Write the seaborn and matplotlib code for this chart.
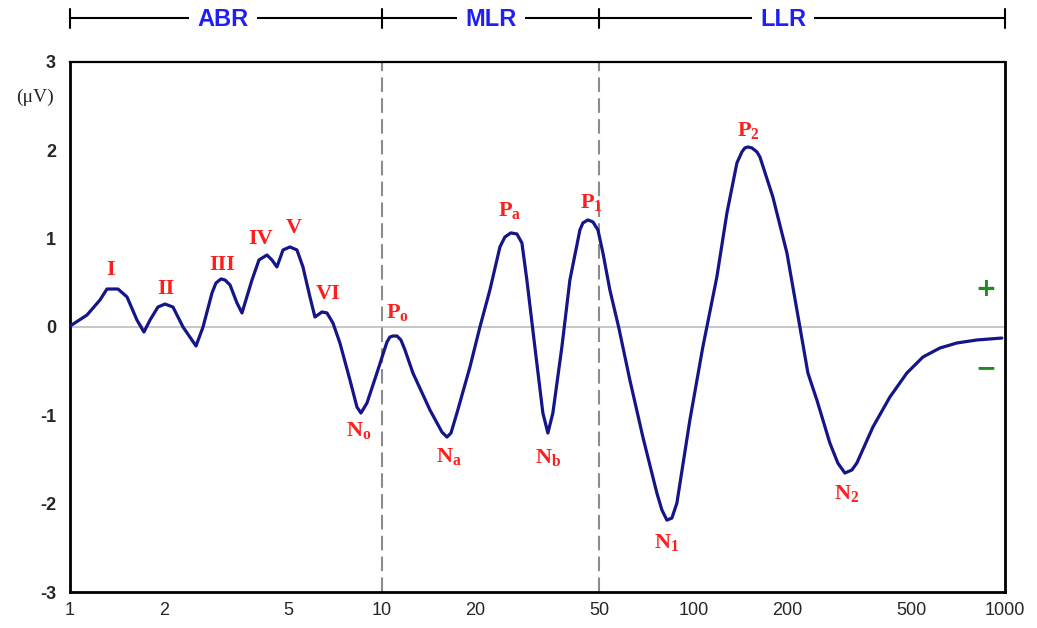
import matplotlib
matplotlib.use("Agg")
import matplotlib.pyplot as plt
import matplotlib.transforms as mtransforms
from matplotlib.ticker import NullLocator
import seaborn as sns

# Grand-averaged auditory evoked potential, latency (ms, log scale) vs amplitude (µV)
latency_ms = [
    1.00, 1.134, 1.248, 1.314, 1.426, 1.524, 1.640, 1.727, 1.806, 1.915,
    2.017, 2.140, 2.305, 2.537, 2.672, 2.855, 2.940, 3.051, 3.143, 3.262,
    3.434, 3.563, 3.836, 4.040, 4.285, 4.446, 4.613, 4.825, 5.079, 5.348,
    5.591, 5.887, 6.109, 6.433, 6.675, 6.978, 7.347, 7.912, 8.332, 8.582,
    8.971, 9.656, 10.40, 10.63, 10.87, 11.20, 11.53, 11.88, 12.60, 14.29,
    15.61, 16.20, 16.69, 17.44, 19.20, 20.67, 22.25, 23.96, 24.86, 25.98,
    27.17, 28.19, 29.24, 31.02, 32.91, 34.15, 35.43, 37.87, 40.18, 43.27,
    44.23, 45.89, 47.64, 49.43, 51.29, 53.99, 57.69, 62.58, 68.90, 76.40,
    79.31, 82.28, 85.35, 88.58, 97.50, 107.3, 119.0, 128.2, 138.0, 143.2,
    146.4, 149.7, 154.2, 160.0, 163.6, 180.0, 199.7, 219.8, 233.2, 249.2,
    274.3, 290.9, 306.4, 322.6, 334.8, 376.9, 427.3, 484.4, 545.4, 618.2,
    701.0, 812.5, 977.2,
]
amplitude_uv = [
    0.01, 0.136, 0.306, 0.430, 0.430, 0.340, 0.079, -0.057, 0.079, 0.226,
    0.260, 0.226, 0.0, -0.215, 0.0, 0.385, 0.498, 0.544, 0.532, 0.476,
    0.272, 0.159, 0.532, 0.759, 0.815, 0.759, 0.680, 0.872, 0.906, 0.872,
    0.680, 0.340, 0.113, 0.170, 0.159, 0.045, -0.181, -0.600, -0.906, -0.974,
    -0.861, -0.521, -0.170, -0.113, -0.102, -0.102, -0.147, -0.260, -0.521, -0.940,
    -1.189, -1.246, -1.200, -0.974, -0.453, 0.0, 0.419, 0.906, 1.019, 1.065,
    1.053, 0.951, 0.532, -0.226, -0.974, -1.200, -0.974, -0.226, 0.532, 1.099,
    1.178, 1.212, 1.189, 1.099, 0.838, 0.419, -0.011, -0.600, -1.246, -1.880,
    -2.072, -2.186, -2.163, -1.993, -1.053, -0.226, 0.566, 1.291, 1.857, 1.982,
    2.027, 2.038, 2.027, 1.982, 1.925, 1.472, 0.838, 0.0, -0.521, -0.827,
    -1.314, -1.540, -1.653, -1.619, -1.540, -1.133, -0.793, -0.521, -0.340, -0.238,
    -0.181, -0.147, -0.125,
]

# Named components and the sample where each one peaks
peak_names = ["I", "II", "III", "IV", "V", "VI", r"N_o", r"P_o", r"N_a", r"P_a",
              r"N_b", r"P_1", r"N_1", r"P_2", r"N_2"]
peak_index = [3, 10, 17, 24, 28, 33, 39, 44, 51, 59, 65, 71, 81, 91, 102]
# label offsets from the peak, in pixels
peak_offset = [(4, 19), (1, 15), (1, 14), (-6, 16), (4, 19), (6, 18), (-2, -17),
               (5, 24), (2, -19), (-1, 22), (0, -24), (3, 17), (0, -22), (0, 16), (2, -20)]

x_ticks = [1, 2, 5, 10, 20, 50, 100, 200, 500, 1000]
y_ticks = [-3, -2, -1, 0, 1, 2, 3]

# Response windows and where their names sit
band_names = ["ABR", "MLR", "LLR"]
band_edges = [1, 10, 50, 1000]
band_label_x = [3.1, 22.4, 194]

sns.set_style("white")
plt.rcParams["mathtext.fontset"] = "custom"
plt.rcParams["mathtext.rm"] = "Liberation Serif:bold"
plt.rcParams["mathtext.bf"] = "Liberation Serif:bold"
plt.rcParams["mathtext.it"] = "Liberation Serif:bold"

fig = plt.figure(figsize=(10.37, 6.28), dpi=100)
ax = fig.add_axes([0.0675, 0.0573, 0.9016, 0.844])

ax.axhline(0, color="#b8b8b8", lw=1.1, zorder=1)
for b in band_edges[1:-1]:
    ax.axvline(b, color="#8c8c8c", lw=1.5, ls=(0, (7, 3)), zorder=1)

sns.lineplot(x=latency_ms, y=amplitude_uv, sort=False, estimator=None,
             color="#15158a", lw=2.3, ax=ax, zorder=3,
             solid_joinstyle="round", solid_capstyle="round")

ax.set_xscale("log")
ax.set_xlim(1, 1000)
ax.set_ylim(-3, 3)
ax.set_xticks(x_ticks)
ax.set_xticklabels([str(t) for t in x_ticks])
ax.xaxis.set_minor_locator(NullLocator())
ax.set_yticks(y_ticks)
ax.set_yticklabels([str(t) for t in y_ticks])
ax.tick_params(axis="both", direction="in", length=5, width=1.5, color="black")
ax.tick_params(axis="x", pad=7)
ax.tick_params(axis="y", pad=10)
for lbl in ax.get_xticklabels():
    lbl.set_family(["Liberation Sans Narrow", "Liberation Sans"])
    lbl.set_fontsize(13)
for lbl in ax.get_yticklabels():
    lbl.set_family(["Liberation Sans", "DejaVu Sans"])
    lbl.set_fontsize(13)
    lbl.set_fontweight("bold")
for side in ["left", "right", "bottom", "top"]:
    ax.spines[side].set_linewidth(2.0)
    ax.spines[side].set_color("black")
ax.spines["top"].set_linewidth(1.6)

# Peak labels
for name, idx, (dx, dy) in zip(peak_names, peak_index, peak_offset):
    text = name if "_" not in name else r"$\mathbf{%s}$" % name
    ax.annotate(text, xy=(latency_ms[idx], amplitude_uv[idx]), xytext=(dx, dy),
                textcoords="offset pixels", ha="center", va="center",
                color="#ff1e1e", fontsize=16, fontweight="bold",
                family=["Liberation Serif", "DejaVu Serif"], zorder=4)

# Window bar above the axes
trans = mtransforms.blended_transform_factory(ax.transData, ax.transAxes)
ax.plot([band_edges[0], band_edges[-1]], [1.083, 1.083], color="black", lw=1.5,
        transform=trans, clip_on=False)
for e in band_edges:
    ax.plot([e, e], [1.064, 1.100], color="black", lw=1.5, transform=trans, clip_on=False)
for name, xl in zip(band_names, band_label_x):
    ax.text(xl, 1.081, name, transform=trans, ha="center", va="center",
            color="#1f1ff5", fontsize=17, fontweight="bold",
            family=["Liberation Sans", "DejaVu Sans"],
            bbox=dict(facecolor="white", edgecolor="none", pad=6))

# Polarity markers
ax.text(0.980, 0.5717, "+", transform=ax.transAxes, ha="center", va="center",
        color="#1c8c1c", fontsize=18, fontweight="bold", family="DejaVu Sans")
ax.text(0.980, 0.4226, "\u2212", transform=ax.transAxes, ha="center", va="center",
        color="#1c8c1c", fontsize=18, fontweight="bold", family="DejaVu Sans")

fig.text(35 / 1037, 1 - 97 / 628, "(\u03bcV)", ha="center", va="center",
         fontsize=14, family=["Liberation Serif", "DejaVu Serif"])

fig.savefig("out.png", dpi=100, facecolor="white")
